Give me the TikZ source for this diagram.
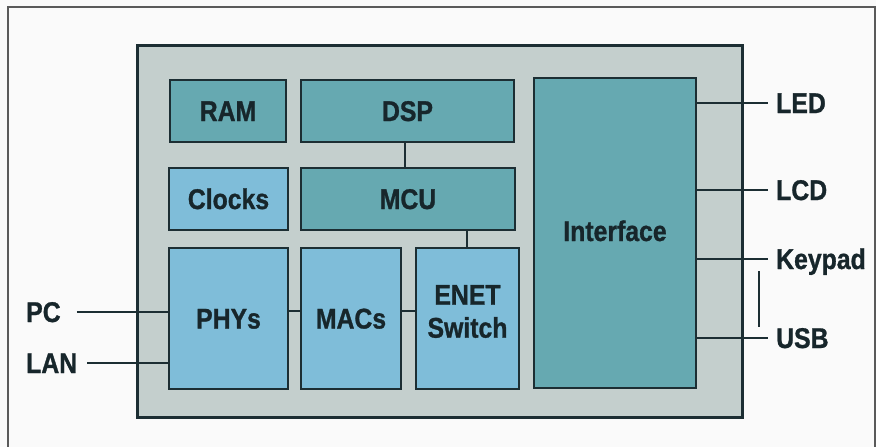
\documentclass[tikz,border=0pt]{standalone}
\usepackage{fontspec}
\setmainfont{Liberation Sans}[FakeStretch=0.87, BoldFeatures={FakeBold=1}]
\definecolor{pagebg}{HTML}{FAFAFA}
\definecolor{framegray}{HTML}{5A5A5A}
\definecolor{chipbg}{HTML}{C4CFCD}
\definecolor{tealbox}{HTML}{66A9B1}
\definecolor{bluebox}{HTML}{7FBDD9}
\definecolor{edge}{HTML}{1C2E33}
\definecolor{ink}{HTML}{17262B}
\tikzset{
  lbl/.style={text=ink, font=\fontsize{28.5}{33}\selectfont\bfseries, align=center},
  blk/.style={lbl, draw=edge, line width=2pt, inner sep=0pt,
    text height=20pt, text depth=0pt, anchor=north west},
  teal/.style={blk, fill=tealbox},
  light/.style={blk, fill=bluebox},
  wire/.style={draw=edge, line width=2pt},
  pin/.style={lbl, inner sep=0pt, text height=20pt, text depth=0pt, anchor=west},
}
\begin{document}
\begin{tikzpicture}[x=1pt, y=-1pt]
  \useasboundingbox (0,0) rectangle (876,447);
  \fill[pagebg] (0,0) rectangle (876,447);
  % outer frame, open at the bottom
  \draw[framegray, line width=1.5pt] (8,447) -- (8,7) -- (875,7) -- (875,447);

  % chip outline
  \node[draw=edge, line width=2.5pt, fill=chipbg, inner sep=0pt,
        minimum width=605pt, minimum height=372pt, anchor=north west] (chip) at (136,44) {};

  % internal blocks
  \node[teal,  minimum width=116pt, minimum height=62pt]  (ram)   at (169,79)  {RAM};
  \node[teal,  minimum width=213pt, minimum height=62pt]  (dsp)   at (300,79)  {DSP};
  \node[light, minimum width=119pt, minimum height=62pt]  (clk)   at (168,167) {Clocks};
  \node[teal,  minimum width=214pt, minimum height=62pt]  (mcu)   at (300,167) {MCU};
  \node[light, minimum width=119pt, minimum height=141pt] (phy)   at (168,247) {PHYs};
  \node[light, minimum width=100pt, minimum height=141pt] (mac)   at (300,247) {MACs};
  \node[light, minimum width=103pt, minimum height=141pt] (sw)    at (415,247) {};
  \node[lbl, inner sep=0pt] (swtext) at ([yshift=7pt]sw.center) {ENET\\Switch};
  \node[teal,  minimum width=162pt, minimum height=310pt] (iface) at (533,77)  {};
  \node[lbl, inner sep=0pt, text height=20pt, text depth=0pt] (iftext) at ([yshift=2pt]iface.center) {Interface};

  % internal buses
  \draw[wire] (dsp.south -| 405,0) -- (mcu.north -| 405,0);
  \draw[wire] (mcu.south -| 467,0) -- (sw.north -| 467,0);
  \draw[wire] (phy.east |- 0,311) -- (mac.west |- 0,311);
  \draw[wire] (mac.east |- 0,311) -- (sw.west |- 0,311);

  % external ports, left side
  \node[pin] (pc)  at (26,312) {PC};
  \node[pin] (lan) at (26,363) {LAN};
  \draw[wire] ([xshift=16pt]pc.east) -- (phy.west |- pc.east);
  \draw[wire] ([xshift=10pt]lan.east) -- (phy.west |- lan.east);

  % external ports, right side
  \node[pin] (led) at (776,103) {LED};
  \node[pin] (lcd) at (776,190) {LCD};
  \node[pin] (key) at (776,259) {Keypad};
  \node[pin] (usb) at (776,338) {USB};
  \foreach \p in {led,lcd,key,usb}
    \draw[wire] (iface.east |- \p.west) -- ([xshift=-8pt]\p.west);

  % Keypad / USB share a port
  \coordinate (tieA) at (759,271);
  \coordinate (tieB) at (759,327);
  \draw[wire] (tieA) -- (tieB);
\end{tikzpicture}
\end{document}
